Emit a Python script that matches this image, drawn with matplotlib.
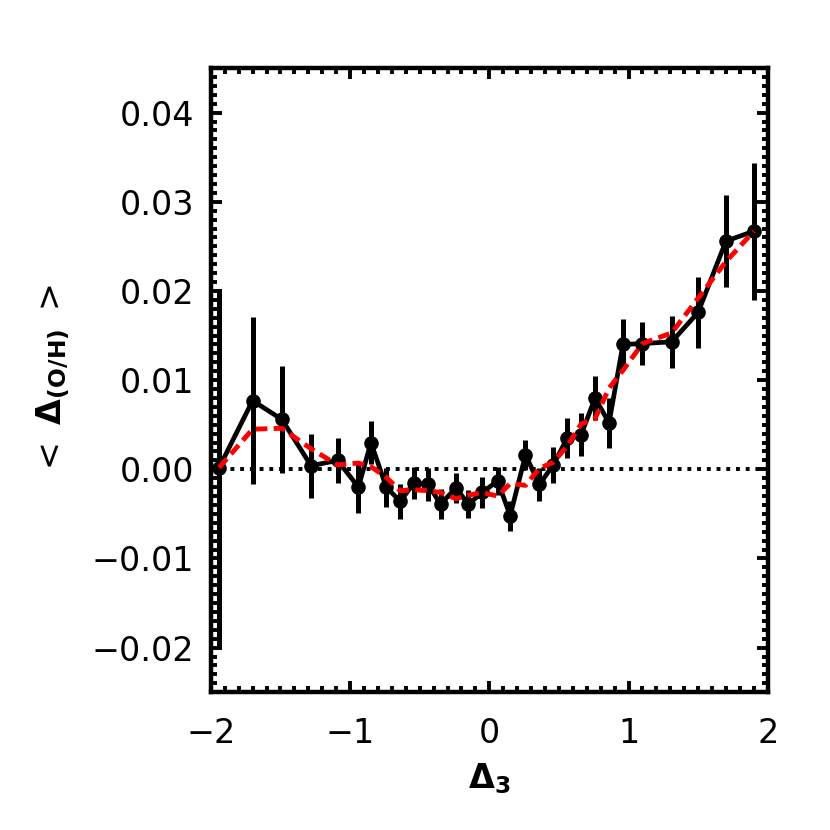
import numpy as np
import matplotlib.pyplot as plt
from matplotlib.ticker import MultipleLocator, FixedLocator

# binned mean offset vs Delta_3
delta3 = [-1.94, -1.70, -1.49, -1.28, -1.09, -0.94, -0.85, -0.74, -0.64, -0.54,
          -0.44, -0.35, -0.24, -0.15, -0.05, 0.06, 0.15, 0.26, 0.36, 0.46,
          0.56, 0.66, 0.76, 0.86, 0.96, 1.10, 1.31, 1.50, 1.70, 1.90]
mean_oh = [0.0002, 0.0077, 0.0056, 0.0004, 0.0010, -0.0020, 0.0030, -0.0020, -0.0036, -0.0015,
           -0.0017, -0.0039, -0.0021, -0.0039, -0.0026, -0.0013, -0.0052, 0.0016, -0.0017, 0.0005,
           0.0035, 0.0039, 0.0080, 0.0052, 0.0140, 0.0141, 0.0143, 0.0176, 0.0256, 0.0267]
err_oh = [0.0200, 0.0094, 0.0060, 0.0036, 0.0025, 0.0029, 0.0024, 0.0022, 0.0020, 0.0018,
          0.0018, 0.0017, 0.0017, 0.0016, 0.0017, 0.0016, 0.0017, 0.0017, 0.0018, 0.0020,
          0.0022, 0.0024, 0.0025, 0.0028, 0.0029, 0.0024, 0.0029, 0.0040, 0.0052, 0.0077]
# smoothed curve (red dashed)
smooth_oh = [0.0002, 0.0045, 0.0046, 0.0023, 0.0005, 0.0007, 0.0003, -0.0009, -0.0024, -0.0023,
             -0.0024, -0.0026, -0.0033, -0.0029, -0.0026, -0.0030, -0.0016, -0.0018, 0.0001, 0.0008,
             0.0026, 0.0051, 0.0057, 0.0091, 0.0111, 0.0141, 0.0153, 0.0192, 0.0233, 0.0267]

xticks = [-2, -1, 0, 1, 2]
xtick_labels = ['\u22122', '\u22121', '0', '1', '2']
yticks = [-0.02, -0.01, 0.00, 0.01, 0.02, 0.03, 0.04]
ytick_labels = ['\u22120.02', '\u22120.01', '0.00', '0.01', '0.02', '0.03', '0.04']

fig = plt.figure(figsize=(8.3, 8.3), dpi=100)
ax = fig.add_axes([0.254, 0.166, 0.671, 0.752])

ax.plot([-2, 2], [0, 0], color='black', linestyle=(0, (1, 1.5)), lw=2.8)
ax.errorbar(delta3, mean_oh, yerr=err_oh, fmt='o-', color='black', ms=9.5,
            lw=3.4, elinewidth=3.6, capsize=0, zorder=3)
ax.plot(delta3, smooth_oh, color='red', linestyle=(0, (2.4, 1.3)), lw=3.5, zorder=4)

ax.set_xlim(-2, 2)
ax.set_ylim(-0.025, 0.045)
ax.xaxis.set_major_locator(FixedLocator(xticks))
ax.set_xticklabels(xtick_labels)
ax.yaxis.set_major_locator(FixedLocator(yticks))
ax.set_yticklabels(ytick_labels)
ax.xaxis.set_minor_locator(MultipleLocator(0.1))
ax.yaxis.set_minor_locator(MultipleLocator(0.001))
ax.tick_params(which='both', direction='in', top=True, right=True, labelsize=24, width=2.8)
ax.tick_params(which='major', length=8, pad=12)
ax.tick_params(axis='x', which='major', pad=18)
ax.tick_params(which='minor', length=4.5)
for sp in ax.spines.values():
    sp.set_linewidth(3.2)

ax.set_xlabel(r'$\mathbf{\Delta_3}$', fontsize=24, labelpad=8)
ax.set_ylabel(r'$<\ \mathbf{\Delta_{(O/H)}}\ >$', fontsize=24, labelpad=14)

fig.savefig('out.png', dpi=100)
